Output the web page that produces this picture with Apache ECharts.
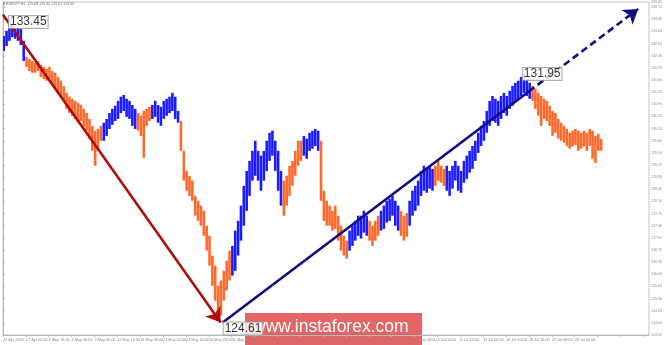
<!DOCTYPE html>
<html><head><meta charset="utf-8">
<script src="https://cdn.jsdelivr.net/npm/echarts@6/dist/echarts.min.js"></script>
<style>html,body{margin:0;padding:0;background:#fff}#c{width:665px;height:345px}</style>
</head><body><div id="c"></div>
<script>
// time-axis tick labels (one every 16 H4 bars)
const dateLabels = ["24 Apr 2018","27 Apr 00:00","1 May 16:00","4 May 08:00","9 May 00:00","11 May 16:00","16 May 08:00","21 May 00:00","23 May 16:00","28 May 08:00","31 May 00:00","4 Jun 16:00","7 Jun 08:00","12 Jun 00:00","14 Jun 16:00","19 Jun 08:00","22 Jun 00:00","26 Jun 16:00","29 Jun 08:00","4 Jul 00:00","6 Jul 16:00","11 Jul 08:00","16 Jul 00:00","18 Jul 16:00","23 Jul 08:00","26 Jul 00:00"];
// one sample every 2 H4 bars: high / low
const highs = [132.87,133.02,133.10,133.16,133.07,133.13,133.07,132.73,132.27,132.21,132.15,132.09,132.15,132.04,131.98,131.92,131.98,131.86,131.81,131.69,131.58,131.43,131.23,131.12,131.06,131.00,130.94,130.88,130.77,130.65,130.48,130.28,130.14,130.19,130.28,130.37,130.48,130.65,130.77,130.86,131.00,131.12,131.17,131.06,131.00,130.88,130.77,130.65,130.57,130.71,130.77,130.83,130.88,131.00,130.88,130.83,131.00,131.06,131.12,131.23,131.12,130.71,130.42,129.56,128.98,128.84,128.70,128.26,128.12,127.98,127.83,127.40,127.11,126.54,126.25,125.67,125.82,126.10,126.39,126.68,126.82,127.26,127.54,127.98,128.55,128.98,129.27,129.56,129.85,129.56,129.42,129.56,129.85,130.08,130.14,129.85,129.56,128.98,128.70,128.84,129.13,129.27,129.56,129.85,129.85,129.99,129.91,130.08,130.14,130.19,130.14,129.85,128.41,128.12,127.98,127.83,127.98,127.69,127.40,127.11,126.97,127.26,127.40,127.54,127.69,127.69,127.83,127.69,127.54,127.40,127.54,127.69,127.83,127.98,128.12,128.18,128.26,128.12,127.98,127.83,127.69,127.77,128.12,128.41,128.55,128.70,128.98,129.13,129.04,129.13,129.04,129.13,129.27,129.13,129.04,129.13,128.98,129.13,129.27,129.13,128.98,129.27,129.42,129.56,129.70,129.85,130.08,130.28,130.42,130.71,131.00,131.14,131.06,131.00,131.14,131.23,131.14,131.29,131.43,131.52,131.58,131.69,131.78,131.63,131.52,131.43,131.35,131.23,131.14,131.06,131.00,130.86,130.71,130.65,130.48,130.37,130.28,130.19,130.08,130.14,130.19,130.14,130.08,130.14,130.08,130.19,130.14,129.99,130.05,129.91];
const lows = [132.44,132.58,132.73,132.84,132.79,132.73,132.61,132.15,131.98,131.86,131.81,131.81,131.86,131.69,131.63,131.58,131.63,131.46,131.35,131.23,131.12,131.00,130.77,130.65,130.57,130.48,130.37,130.42,130.25,130.14,129.91,129.56,129.13,129.56,129.85,129.85,129.99,130.19,130.31,130.42,130.48,130.65,130.71,130.54,130.48,130.28,130.19,130.14,129.99,129.36,130.28,130.42,130.48,130.54,130.37,130.28,130.48,130.57,130.65,130.71,130.48,130.37,129.56,128.70,128.41,128.26,128.12,127.69,127.54,127.40,127.11,126.68,126.25,125.67,125.24,124.72,124.81,125.24,125.53,125.82,125.96,126.10,126.54,126.97,127.40,127.83,128.26,128.70,128.84,128.70,128.41,128.70,128.98,129.27,129.42,128.98,128.41,127.98,127.69,127.98,128.26,128.55,128.84,129.13,129.27,129.42,129.33,129.56,129.62,129.70,129.56,128.12,127.54,127.40,127.40,127.26,127.31,126.97,126.68,126.54,126.45,126.68,126.82,126.97,127.11,127.03,127.20,127.11,126.97,126.82,126.97,127.11,127.26,127.31,127.49,127.54,127.69,127.40,127.26,127.11,126.97,127.08,127.40,127.69,127.83,127.98,128.26,128.41,128.35,128.47,128.41,128.55,128.70,128.64,128.55,128.41,128.26,128.47,128.70,128.41,128.35,128.64,128.75,128.93,129.04,129.27,129.50,129.70,129.85,130.08,130.28,130.42,130.37,130.28,130.48,130.65,130.57,130.77,130.86,131.00,131.06,131.14,131.23,131.14,131.06,131.00,130.77,130.57,130.28,130.48,130.42,130.28,129.99,130.08,129.91,129.85,129.79,129.70,129.62,129.68,129.73,129.56,129.62,129.68,129.56,129.70,129.33,129.21,129.56,129.56];
// wave segments: [first sample index, direction]
const waves = [[0,"up"],[8,"down"],[35,"up"],[47,"down"],[52,"up"],[62,"down"],[80,"up"],[98,"down"],[105,"up"],[111,"down"],[121,"up"],[128,"down"],[132,"up"],[139,"down"],[142,"up"],[151,"down"],[155,"up"],[185,"down"]];
// wave arrows in [bar index, price]
const downArrow = [[0, 133.48], [152.3, 124.61]];
const upArrowSolid = [[153.7, 124.61], [367.9, 131.27]];
const upArrowDashed = [[367.9, 131.27], [444.4, 133.65]];
// extreme price labels [bar index, price, text]
const priceLabels = [[4.2, 133.45, "133.45"], [363.7, 131.95, "131.95"], [154.4, 124.61, "124.61"]];
const lastPrice = 129.65;
const headerText = "\u25BE EURJPY,H4  129.68 129.80 129.61 129.65";

const BLUE = "#1c1cff", ORANGE = "#ff6a2c";
function dirAt(k){ let d = "up"; for (const w of waves) { if (k >= w[0]) d = w[1]; } return d; }
const barData = highs.map((h, k) => [k * 2 + 0.5, h, lows[k], dirAt(k) === "up" ? 1 : 0]);

const chart = echarts.init(document.getElementById('c'), null, {renderer: 'canvas'});
chart.setOption({
  animation: false,
  backgroundColor: '#fff',
  grid: {left: 1, right: 14, top: 1, bottom: 10, show: true, borderColor: '#c4c4c4', borderWidth: 1},
  xAxis: {
    type: 'value', min: 0, max: 452, interval: 16,
    axisLine: {show: true, lineStyle: {color: '#b8b8b8'}},
    axisTick: {show: true, length: 2, lineStyle: {color: '#b8b8b8'}},
    splitLine: {show: false},
    axisLabel: {show: true, fontSize: 3.8, color: '#8a8a8a', align: 'left', margin: 3,
      showMinLabel: true, showMaxLabel: false, hideOverlap: false,
      fontFamily: 'Liberation Sans',
      formatter: v => dateLabels[Math.round(v / 16)] || ''}
  },
  yAxis: {
    type: 'value', position: 'right', min: 124.25, max: 133.85, interval: 0.35,
    axisLine: {show: true, lineStyle: {color: '#b8b8b8'}},
    axisTick: {show: true, length: 2, lineStyle: {color: '#b8b8b8'}},
    splitLine: {show: false},
    axisLabel: {fontSize: 3.6, color: '#8a8a8a', margin: 2, fontFamily: 'Liberation Sans', formatter: v => v.toFixed(2)}
  },
  series: [
    {
      type: 'custom', data: barData, clip: true,
      renderItem: function (params, api) {
        const x = api.value(0);
        const p1 = api.coord([x, api.value(1)]);
        const p2 = api.coord([x, api.value(2)]);
        const w = 2.6;
        return {type: 'rect', shape: {x: p1[0] - w / 2, y: p1[1], width: w, height: Math.max(1, p2[1] - p1[1])},
          style: {fill: api.value(3) ? BLUE : ORANGE}};
      },
      markLine: {
        silent: true, symbol: 'none',
        lineStyle: {opacity: 0},
        label: {show: true, position: 'end', formatter: lastPrice.toFixed(2), fontSize: 3.6, color: '#fff',
          backgroundColor: '#6b7b8c', padding: [1, 1], distance: 2},
        data: [{yAxis: lastPrice}]
      }
    },
    {
      type: 'lines', coordinateSystem: 'cartesian2d', z: 5,
      symbol: ['none', 'arrow'], symbolSize: [10, 14],
      lineStyle: {color: '#b00c0c', width: 2.6, opacity: 1},
      data: [{coords: downArrow}]
    },
    {
      type: 'lines', coordinateSystem: 'cartesian2d', z: 5,
      symbol: ['none', 'none'],
      lineStyle: {color: '#0e0e80', width: 2.6, opacity: 1},
      data: [{coords: upArrowSolid}]
    },
    {
      type: 'lines', coordinateSystem: 'cartesian2d', z: 5,
      symbol: ['none', 'arrow'], symbolSize: [10, 14],
      lineStyle: {color: '#0e0e80', width: 2.6, type: [7, 4], opacity: 1},
      data: [{coords: upArrowDashed}]
    },
    {
      type: 'scatter', z: 6, symbolSize: 0,
      data: priceLabels,
      label: {show: true, position: 'inside', align: 'left', verticalAlign: 'top',
        formatter: p => p.data[2], fontSize: 12, color: '#000', fontFamily: 'Liberation Sans',
        backgroundColor: '#fff', borderColor: '#9a9a9a', borderWidth: 1, padding: [0, 1, 0, 1], lineHeight: 12}
    }
  ],
  graphic: [
    {type: 'text', left: 3, top: 2, z: 10, style: {text: headerText, fontSize: 3.6, fill: '#707070', fontFamily: 'Liberation Sans'}},
    {type: 'group', left: 245, top: 313, zlevel: 2, z: 20, children: [
      {type: 'rect', shape: {x: 0, y: 0, width: 177, height: 32}, style: {fill: 'rgba(222,72,72,0.84)'}},
      {type: 'text', x: 8, y: 5, style: {text: 'www.instaforex.com', fontSize: 17.5, fill: '#fff', fontFamily: 'Liberation Sans'}}
    ]}
  ]
});
</script></body></html>
